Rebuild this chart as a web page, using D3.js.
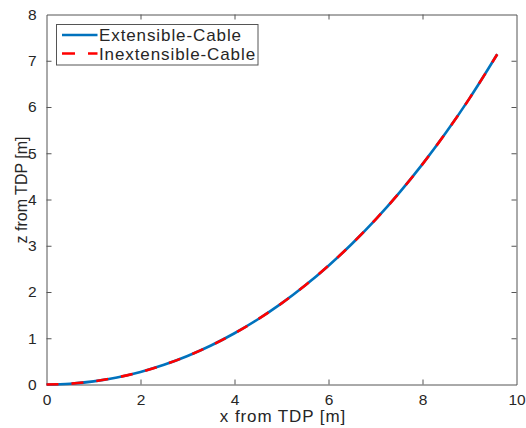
<!DOCTYPE html>
<html>
<head>
<meta charset="utf-8">
<script src="https://cdn.jsdelivr.net/npm/d3@7"></script>
<style>
  html, body { margin: 0; padding: 0; background: #fff; }
  svg { display: block; font-family: "Liberation Sans", Arial, Helvetica, sans-serif; }
</style>
</head>
<body>
<svg id="chart" width="526" height="428"></svg>
<script>
// Data
const xValues = [0, 0.5, 1, 1.5, 2, 2.5, 3, 3.5, 4, 4.5, 5, 5.5, 6, 6.5, 7, 7.5, 8, 8.5, 9, 9.59];
const extensibleZ = [0, 0.017, 0.068, 0.153, 0.272, 0.426, 0.617, 0.843, 1.108, 1.411, 1.754, 2.140, 2.569, 3.044, 3.566, 4.139, 4.765, 5.447, 6.186, 7.14];
const inextensibleZ = [0, 0.017, 0.068, 0.153, 0.272, 0.426, 0.617, 0.843, 1.108, 1.411, 1.754, 2.140, 2.569, 3.044, 3.566, 4.139, 4.765, 5.447, 6.186, 7.14];
const xTicks = [0, 2, 4, 6, 8, 10];
const yTicks = [0, 1, 2, 3, 4, 5, 6, 7, 8];
const seriesNames = ["Extensible-Cable", "Inextensible-Cable"];
const seriesColors = ["#0072BD", "#FF0000"];

const svg = d3.select("#chart");
const L = 46.5, R = 516.5, T = 14.5, B = 384.5;
const x = d3.scaleLinear().domain([0, 10]).range([L, R]);
const y = d3.scaleLinear().domain([0, 8]).range([B, T]);
const axisColor = "#555555";
const textColor = "#262626";
const tickLen = 5;

// axes with inward ticks (bottom/left labelled, top/right mirrored)
const gB = svg.append("g").attr("transform", `translate(0,${B})`)
  .call(d3.axisBottom(x).tickValues(xTicks).tickSizeInner(-tickLen).tickSizeOuter(0).tickPadding(9));
const gT = svg.append("g").attr("transform", `translate(0,${T})`)
  .call(d3.axisTop(x).tickValues(xTicks).tickSizeInner(-tickLen).tickSizeOuter(0).tickFormat(""));
const gL = svg.append("g").attr("transform", `translate(${L},0)`)
  .call(d3.axisLeft(y).tickValues(yTicks).tickSizeInner(-tickLen).tickSizeOuter(0).tickPadding(10));
const gR = svg.append("g").attr("transform", `translate(${R},0)`)
  .call(d3.axisRight(y).tickValues(yTicks).tickSizeInner(-tickLen).tickSizeOuter(0).tickFormat(""));

[gB, gT, gL, gR].forEach(g => {
  g.select(".domain").attr("stroke", axisColor).attr("stroke-width", 1);
  g.selectAll(".tick line").attr("stroke", axisColor).attr("stroke-width", 1);
  g.selectAll(".tick text").attr("fill", textColor).style("font-size", "15.5px")
    .style("font-family", '"Liberation Sans", Arial, Helvetica, sans-serif');
});
// hide end ticks that sit on the box edges
[gB, gT].forEach(g => g.selectAll(".tick line").filter(d => d === 0 || d === 10).attr("stroke", "none"));
[gL, gR].forEach(g => g.selectAll(".tick line").filter(d => d === 0 || d === 8).attr("stroke", "none"));

// lines
const line = d3.line().x(d => x(d[0])).y(d => y(d[1])).curve(d3.curveMonotoneX);
const extData = xValues.map((v, i) => [v, extensibleZ[i]]);
const inextData = xValues.map((v, i) => [v, inextensibleZ[i]]);

svg.append("path").datum(extData).attr("d", line)
  .attr("fill", "none").attr("stroke", seriesColors[0]).attr("stroke-width", 2.6);
svg.append("path").datum(inextData).attr("d", line)
  .attr("fill", "none").attr("stroke", seriesColors[1]).attr("stroke-width", 2.6)
  .attr("stroke-dasharray", "12,13");

// axis labels
svg.append("text").attr("x", 283).attr("y", 422)
  .attr("text-anchor", "middle").attr("fill", textColor)
  .style("font-size", "17px").style("letter-spacing", "0.9px")
  .text("x from TDP [m]");
svg.append("text").attr("transform", "translate(26.5,190) rotate(-90)")
  .attr("text-anchor", "middle").attr("fill", textColor)
  .style("font-size", "16px")
  .text("z from TDP [m]");

// legend
const lg = svg.append("g");
lg.append("rect").attr("x", 56.5).attr("y", 24.5).attr("width", 201.5).attr("height", 40.5)
  .attr("fill", "#fff").attr("stroke", axisColor).attr("stroke-width", 1);
const rows = [35, 53.5];
seriesNames.forEach((name, i) => {
  lg.append("line").attr("x1", 62).attr("x2", 97.5).attr("y1", rows[i]).attr("y2", rows[i])
    .attr("stroke", seriesColors[i]).attr("stroke-width", 2.6)
    .attr("stroke-dasharray", i === 1 ? "13,13" : null);
  lg.append("text").attr("x", 99).attr("y", rows[i] + 6)
    .attr("fill", textColor).style("font-size", "17px").style("letter-spacing", "0.9px")
    .text(name);
});
</script>
</body>
</html>
